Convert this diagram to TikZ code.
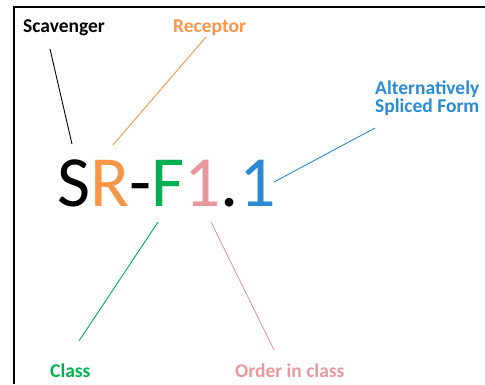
\documentclass[tikz,border=0pt]{standalone}
\usepackage{fontspec}
\setmainfont{Carlito}
\definecolor{scavblack}{RGB}{0,0,0}
\definecolor{recorange}{RGB}{247,150,70}
\definecolor{classgreen}{RGB}{0,176,80}
\definecolor{orderpink}{RGB}{232,152,154}
\definecolor{altblue}{RGB}{42,138,212}
\tikzset{
  tag/.style={anchor=base west, inner sep=0pt, font=\fontsize{19.5}{22}\selectfont\bfseries},
  pointer/.style={line width=0.9pt},
}
\begin{document}
\begin{tikzpicture}[x=1pt,y=-1pt]
  \useasboundingbox (0,0) rectangle (485,384);
  % open frame: only the left and top edges
  \draw[line width=1.5pt] (14,384) -- (14,7) -- (485,7);

  % the identifier, one colour per part
  \node[anchor=base west, inner sep=0pt, font=\fontsize{72}{80}\selectfont] (code) at (57,206)
    {\textcolor{scavblack}{S}\textcolor{recorange}{R}-\textcolor{classgreen}{F}\textcolor{orderpink}{1}.\textcolor{altblue}{1}};

  % labels
  \node[tag, text=scavblack] (scav) at (23,32) {Scavenger};
  \node[tag, text=recorange] (rec) at (173,32) {Receptor};
  \node[tag, text=altblue] (alt1) at (375,94) {Alternatively};
  \node[tag, text=altblue] (alt2) at (375,112) {Spliced Form};
  \node[tag, text=classgreen] (cls) at (50,377) {Class};
  \node[tag, text=orderpink] (ord) at (235,377) {Order in class};

  % pointer end points
  \coordinate (scavA) at (50,49);   \coordinate (scavB) at (72,144);
  \coordinate (recA) at (206,37);   \coordinate (recB) at (113,145);
  \coordinate (altA) at (375,128);  \coordinate (altB) at (274,182);
  \coordinate (clsA) at (158,222);  \coordinate (clsB) at (79,341);
  \coordinate (ordA) at (211,222);  \coordinate (ordB) at (274,350);

  \draw[pointer, scavblack] (scavA) -- (scavB);
  \draw[pointer, recorange] (recA) -- (recB);
  \draw[pointer, altblue] (altA) -- (altB);
  \draw[pointer, classgreen] (clsA) -- (clsB);
  \draw[pointer, orderpink] (ordA) -- (ordB);
\end{tikzpicture}
\end{document}
